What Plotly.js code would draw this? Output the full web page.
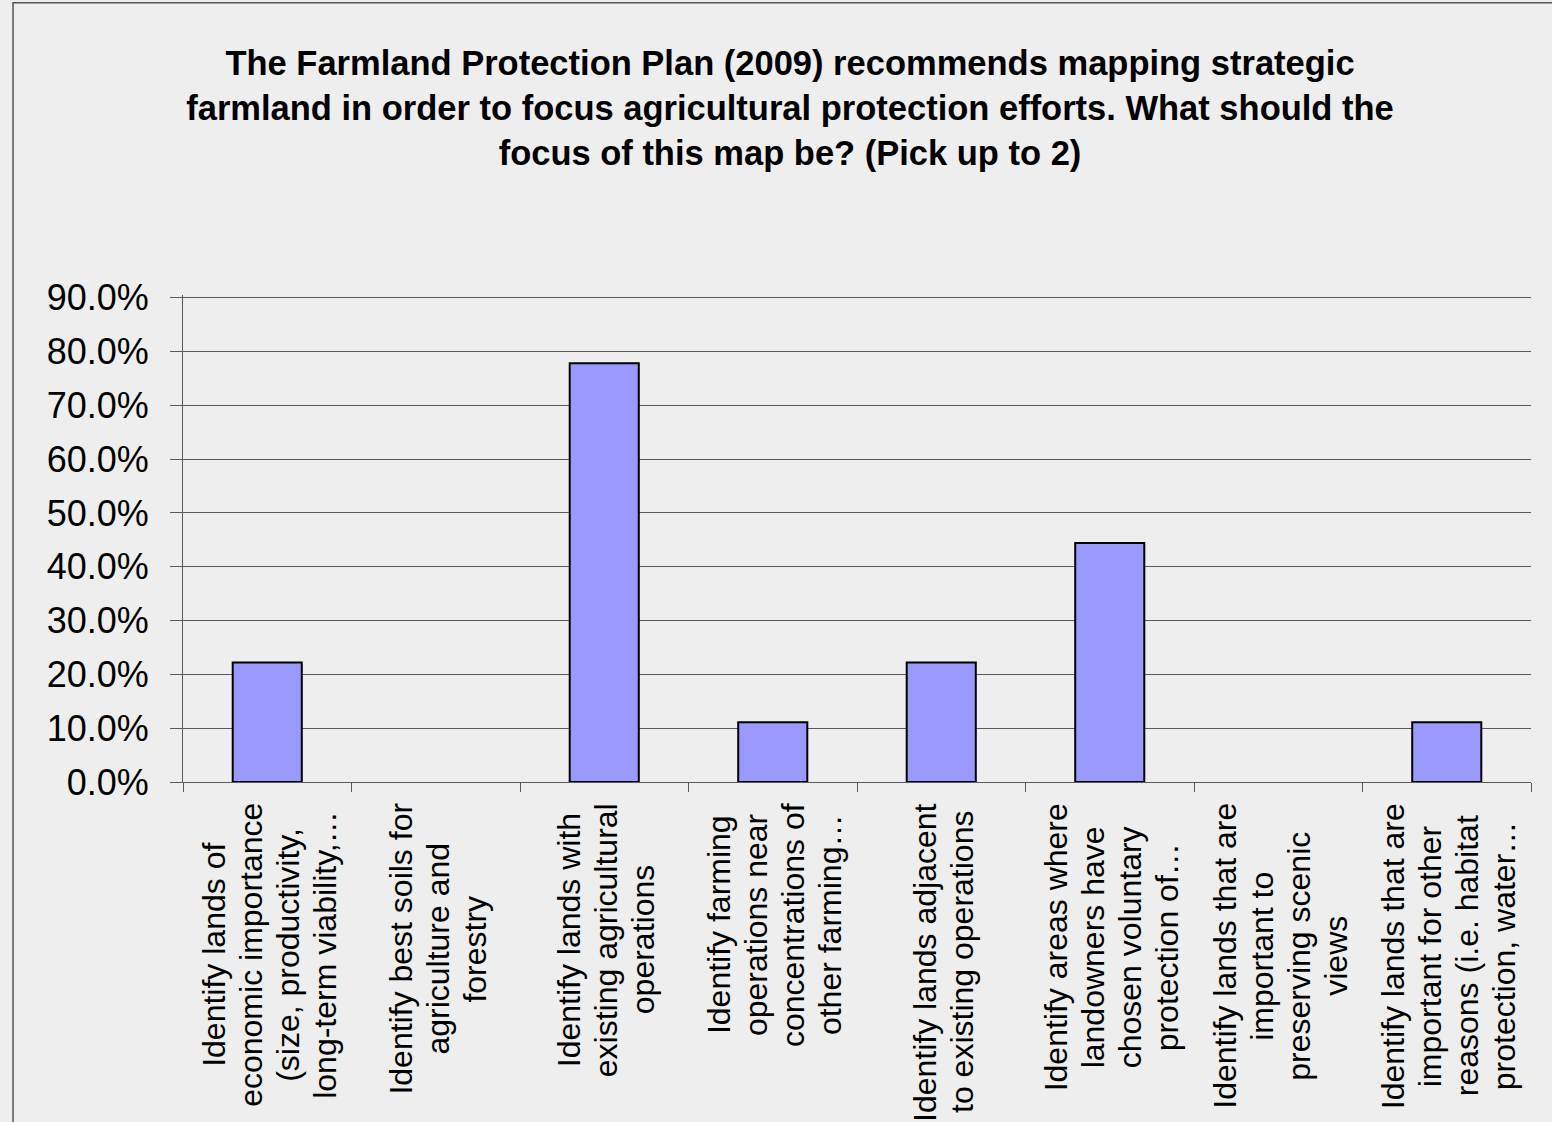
<!DOCTYPE html>
<html>
<head>
<meta charset="utf-8">
<script src="https://cdn.plot.ly/plotly-3.0.1.min.js"></script>
<style>
  html, body { margin: 0; padding: 0; background: #eeeeee; overflow: hidden; }
  #chart { width: 1552px; height: 1122px; }
</style>
</head>
<body>
<div id="chart"></div>
<script>
// Survey answers: focus of the strategic farmland map (respondents could pick up to 2)
const categories = [
  "Identify lands of<br>economic importance<br>(size, productivity,<br>long-term viability,…",
  "Identify best soils for<br>agriculture and<br>forestry",
  "Identify lands with<br>existing agricultural<br>operations",
  "Identify farming<br>operations near<br>concentrations of<br>other farming…",
  "Identify lands adjacent<br>to existing operations",
  "Identify areas where<br>landowners have<br>chosen voluntary<br>protection of…",
  "Identify lands that are<br>important to<br>preserving scenic<br>views",
  "Identify lands that are<br>important for other<br>reasons (i.e. habitat<br>protection, water…"
];
const shares = [0.222, 0, 0.778, 0.111, 0.222, 0.444, 0, 0.111];

const titleText = "The Farmland Protection Plan (2009) recommends mapping strategic<br>" +
  "farmland in order to focus agricultural protection efforts. What should the<br>" +
  "focus of this map be? (Pick up to 2)";

const FONT = "'Liberation Sans', Arial, sans-serif";
const LABEL_SIZE = 32;
const LABEL_LINE = 37;   // spacing between wrapped label lines
const LABEL_GAP = 21;    // distance from the x axis to the top of the label block

// Category labels: vertical, each wrapped line centred on the block
const measure = document.createElement("canvas").getContext("2d");
measure.font = LABEL_SIZE + "px " + FONT;

const annotations = [];
categories.forEach(function (cat) {
  const lines = cat.split("<br>");
  const longest = Math.max.apply(null, lines.map(function (s) { return measure.measureText(s).width; }));
  lines.forEach(function (line, i) {
    annotations.push({
      x: cat, xref: "x",
      y: 0, yref: "paper",
      text: line,
      showarrow: false,
      textangle: -90,
      xanchor: "center", yanchor: "middle",
      xshift: (i - (lines.length - 1) / 2) * LABEL_LINE + 2,
      yshift: -(LABEL_GAP + longest / 2),
      font: { family: FONT, size: LABEL_SIZE, color: "#000000" }
    });
  });
});

const trace = {
  type: "bar",
  x: categories,
  y: shares,
  marker: {
    color: "#9999FF",
    // empty categories get no outline on the baseline
    line: { color: "#000000", width: shares.map(function (v) { return v > 0 ? 2 : 0; }) }
  },
  hoverinfo: "skip"
};

const axisGray = "#595959";

const layout = {
  width: 1552,
  height: 1122,
  margin: { l: 183, r: 21, t: 295, b: 340, pad: 0 },
  paper_bgcolor: "#eeeeee",
  plot_bgcolor: "#eeeeee",
  font: { family: FONT, color: "#000000" },
  showlegend: false,
  bargap: 0.59,
  title: {
    text: titleText,
    font: { family: FONT, size: 34.5, color: "#000000", weight: "bold" },
    x: 0.4503, xref: "paper", xanchor: "center",
    y: 1 - 75 / 1122, yref: "container", yanchor: "middle"
  },
  xaxis: {
    type: "category",
    range: [-0.5, 7.5],
    showticklabels: false,
    ticks: "outside",
    tickson: "boundaries",
    ticklen: 9,
    tickcolor: axisGray,
    tickwidth: 1,
    showline: true,
    linecolor: axisGray,
    linewidth: 1,
    showgrid: false,
    zeroline: false,
    fixedrange: true
  },
  yaxis: {
    // a little headroom above 90% so its gridline is kept
    range: [0, 0.905],
    tick0: 0,
    dtick: 0.1,
    tickformat: ".1%",
    tickfont: { family: FONT, size: 36, color: "#000000" },
    ticks: "outside",
    ticklen: 12,
    tickcolor: axisGray,
    tickwidth: 1,
    ticklabelstandoff: 14,
    showline: true,
    linecolor: axisGray,
    linewidth: 1,
    showgrid: true,
    gridcolor: axisGray,
    gridwidth: 1,
    zeroline: false,
    fixedrange: true
  },
  annotations: annotations,
  shapes: [{
    type: "rect", xref: "paper", yref: "paper",
    x0: -0.1261, x1: 1.2, y0: -1, y1: 1.6,
    line: { color: "#555555", width: 1.5 },
    fillcolor: "rgba(0,0,0,0)",
    layer: "below"
  }]
};

Plotly.newPlot("chart", [trace], layout, { displayModeBar: false, staticPlot: true });
</script>
</body>
</html>
